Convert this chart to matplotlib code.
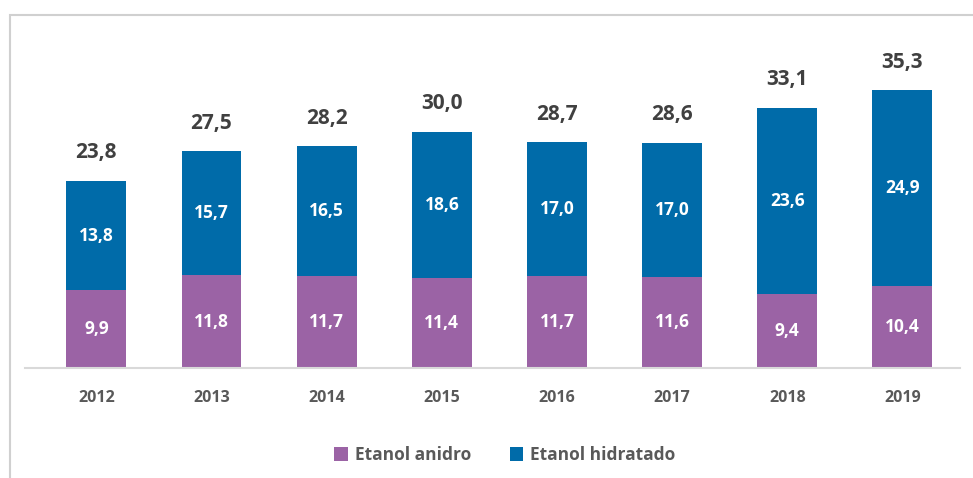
import numpy as np
import matplotlib.pyplot as plt
from matplotlib.patches import Rectangle

anos = ["2012", "2013", "2014", "2015", "2016", "2017", "2018", "2019"]
anidro = [9.9, 11.8, 11.7, 11.4, 11.7, 11.6, 9.4, 10.4]
hidratado = [13.8, 15.7, 16.5, 18.6, 17.0, 17.0, 23.6, 24.9]
totais = [23.8, 27.5, 28.2, 30.0, 28.7, 28.6, 33.1, 35.3]

cor_anidro = "#9B63A5"
cor_hidratado = "#006BA9"

plt.rcParams["font.family"] = ["Open Sans", "DejaVu Sans"]
plt.rcParams["font.weight"] = "bold"


def fmt(v):
    return f"{v:.1f}".replace(".", ",")


fig = plt.figure(figsize=(9.73, 4.78), dpi=100)
ax = fig.add_axes([25 / 973, 110 / 478, 935 / 973, 315 / 478])

x = np.arange(len(anos))
b1 = ax.bar(x, anidro, width=0.52, color=cor_anidro, label="Etanol anidro")
b2 = ax.bar(x, hidratado, width=0.52, bottom=anidro, color=cor_hidratado,
            label="Etanol hidratado")

for i in range(len(anos)):
    ax.text(x[i], anidro[i] / 2, fmt(anidro[i]), ha="center", va="center",
            color="white", fontsize=12.5, fontweight="bold")
    ax.text(x[i], anidro[i] + hidratado[i] / 2, fmt(hidratado[i]),
            ha="center", va="center", color="white", fontsize=12.5,
            fontweight="bold")
    ax.text(x[i], totais[i] + 2.2, fmt(totais[i]), ha="center", va="bottom",
            color="#404040", fontsize=15, fontweight="bold")

ax.set_xlim(-0.62, 7.5)
ax.set_ylim(0, 40)
ax.set_xticks(x)
ax.set_xticklabels(anos, color="#595959", fontsize=11.5, fontweight="bold")
ax.tick_params(axis="x", length=0, pad=16)
ax.set_yticks([])
for s in ["top", "right", "left"]:
    ax.spines[s].set_visible(False)
ax.spines["bottom"].set_color("#d9d9d9")
ax.spines["bottom"].set_linewidth(1.5)

leg = fig.legend(loc="center", bbox_to_anchor=(505 / 973, 1 - 455 / 478),
                 ncol=2, frameon=False, fontsize=12.5, handlelength=0.8,
                 handleheight=0.8, columnspacing=2.2, handletextpad=0.4)
for t in leg.get_texts():
    t.set_color("#595959")

fig.patches.append(Rectangle((10 / 973, -0.05), 1.0, 1 - 15 / 478 + 0.05,
                             transform=fig.transFigure, fill=False,
                             edgecolor="#d0d0d0", linewidth=1.5))

fig.savefig("out.png", dpi=100)
